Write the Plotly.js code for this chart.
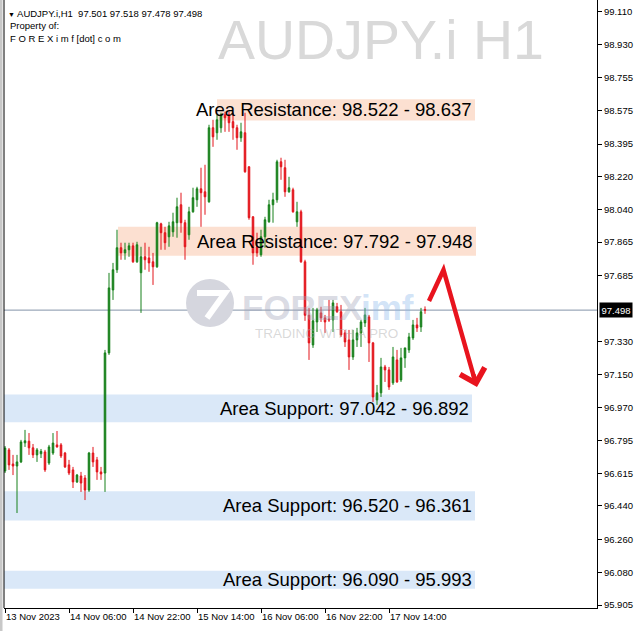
<!DOCTYPE html>
<html>
<head>
<meta charset="utf-8">
<script src="https://cdn.plot.ly/plotly-3.0.1.min.js"></script>
<style>html,body{margin:0;padding:0;background:#fff;}#chart{width:641px;height:631px;}</style>
</head>
<body>
<div id="chart"></div>
<script>
// ---- data: AUDJPY.i H1 candles, first bar 13 Nov 2023 14:00 ----
const firstBar = '2023-11-13T14:00:00Z';
const openP = [96.629,96.743,96.667,96.656,96.678,96.781,96.790,96.754,96.716,96.722,
  96.732,96.672,96.726,96.770,96.770,96.726,96.662,96.635,96.570,96.602,
  96.591,96.526,96.726,96.689,96.624,96.618,97.267,97.607,97.716,97.835,
  97.807,97.824,97.845,97.759,97.700,97.786,97.780,97.759,97.732,97.964,
  97.916,97.894,97.921,97.970,98.067,97.970,97.905,98.029,98.094,98.153,
  98.137,98.083,98.483,98.456,98.483,98.553,98.553,98.516,98.483,98.429,
  98.456,98.272,98.002,97.840,97.797,97.894,97.975,98.067,98.094,98.299,
  98.267,98.137,98.148,97.975,98.029,97.759,97.470,97.310,97.434,97.483,
  97.456,97.450,97.445,97.516,97.489,97.375,97.337,97.245,97.337,97.375,
  97.429,97.461,97.321,97.013,97.051,97.191,97.175,97.105,97.229,97.121,
  97.240,97.283,97.348,97.418,97.407,97.501];
const highP = [96.764,96.753,96.716,96.716,96.797,96.851,96.834,96.775,96.753,96.748,
  96.743,96.770,96.834,96.845,96.780,96.732,96.689,96.651,96.613,96.624,
  96.607,96.732,96.759,96.705,96.651,97.283,97.699,97.753,97.932,97.862,
  97.862,97.862,97.862,97.867,97.840,97.862,97.840,97.807,97.975,97.970,
  97.948,97.975,98.024,98.105,98.132,97.986,98.056,98.159,98.164,98.267,
  98.283,98.499,98.526,98.553,98.564,98.570,98.570,98.564,98.499,98.510,
  98.564,98.275,98.005,97.916,97.932,98.002,98.094,98.132,98.310,98.321,
  98.310,98.218,98.159,98.083,98.040,97.770,97.510,97.510,97.510,97.516,
  97.472,97.553,97.553,97.537,97.526,97.391,97.391,97.391,97.402,97.445,
  97.510,97.472,97.326,97.094,97.240,97.202,97.191,97.299,97.283,97.294,
  97.294,97.375,97.445,97.456,97.510,97.518];
const lowP = [96.618,96.635,96.607,96.402,96.672,96.759,96.716,96.699,96.678,96.699,
  96.624,96.662,96.716,96.755,96.699,96.645,96.607,96.537,96.564,96.516,
  96.472,96.516,96.651,96.581,96.581,96.516,97.256,97.553,97.699,97.770,
  97.770,97.786,97.753,97.753,97.483,97.716,97.705,97.634,97.726,97.824,
  97.824,97.840,97.894,97.889,97.916,97.770,97.878,98.024,98.056,97.948,
  98.013,98.078,98.380,98.418,98.456,98.461,98.461,98.418,98.364,98.407,
  98.240,97.986,97.743,97.786,97.786,97.835,97.970,97.970,98.078,98.202,
  98.110,98.132,98.024,97.948,97.753,97.440,97.229,97.294,97.380,97.434,
  97.375,97.434,97.380,97.483,97.353,97.299,97.175,97.229,97.299,97.299,
  97.407,97.218,97.002,96.986,97.029,97.110,97.067,97.094,97.105,97.110,
  97.186,97.267,97.337,97.380,97.380,97.478];
const closeP = [96.753,96.662,96.656,96.678,96.786,96.792,96.754,96.716,96.743,96.735,
  96.635,96.759,96.780,96.759,96.710,96.651,96.618,96.570,96.607,96.564,
  96.526,96.726,96.678,96.624,96.613,97.267,97.618,97.716,97.835,97.807,
  97.824,97.845,97.759,97.851,97.786,97.770,97.753,97.732,97.970,97.916,
  97.862,97.953,97.975,98.056,97.970,97.840,98.029,98.105,98.153,98.132,
  98.110,98.483,98.434,98.526,98.553,98.537,98.510,98.483,98.429,98.461,
  98.245,97.997,97.807,97.807,97.894,97.986,98.067,98.094,98.299,98.272,
  98.137,98.159,98.029,98.029,97.759,97.470,97.321,97.440,97.499,97.456,
  97.434,97.445,97.537,97.489,97.364,97.326,97.245,97.337,97.375,97.434,
  97.472,97.321,97.029,97.051,97.191,97.175,97.083,97.245,97.110,97.240,
  97.294,97.353,97.418,97.402,97.489,97.498];

const priceTicks = [99.110,98.930,98.755,98.575,98.395,98.220,98.040,97.865,97.685,
  97.330,97.150,96.970,96.795,96.615,96.440,96.260,96.080,95.905];
const timeTicks = ['2023-11-13 14:00','2023-11-14 06:00','2023-11-14 22:00','2023-11-15 14:00',
  '2023-11-16 06:00','2023-11-16 22:00','2023-11-17 14:00'];
const timeTickText = ['13 Nov 2023','14 Nov 06:00','14 Nov 22:00','15 Nov 14:00',
  '16 Nov 06:00','16 Nov 22:00','17 Nov 14:00'];
const lastPrice = 97.498;

const zoneKind = ['Resistance','Resistance','Support','Support','Support'];
const zoneFirst = [98.522, 97.792, 97.042, 96.520, 96.090];
const zoneSecond = [98.637, 97.948, 96.892, 96.361, 95.993];
const zoneStart = ['2023-11-15 19:00','2023-11-14 18:15','2023-11-13 00:00','2023-11-13 00:00','2023-11-13 00:00'];
const zoneEnd = ['2023-11-18 11:30','2023-11-18 11:45','2023-11-18 10:45','2023-11-18 11:30','2023-11-18 11:30'];

// ---- build hourly timestamps ----
function fmt(d){const p=n=>String(n).padStart(2,'0');
  return d.getUTCFullYear()+'-'+p(d.getUTCMonth()+1)+'-'+p(d.getUTCDate())+' '+p(d.getUTCHours())+':'+p(d.getUTCMinutes());}
const t0 = new Date(firstBar).getTime();
const times = openP.map((_,i)=>fmt(new Date(t0+i*3600000)));

const GREEN = '#17801a', RED = '#e3141b';
const FONT = 'Liberation Sans, Arial, sans-serif';

const candle = {
  type:'candlestick', x:times, open:openP, high:highP, low:lowP, close:closeP,
  increasing:{line:{color:GREEN,width:1},fillcolor:GREEN},
  decreasing:{line:{color:RED,width:1},fillcolor:RED},
  whiskerwidth:0, hoverinfo:'skip', showlegend:false
};

const PW = 593, PH = 608; // plot area in px
const px = x => (x-4)/PW, py = y => 1 - y/PH;

const shapes = [];
const annotations = [];
zoneKind.forEach((k,i)=>{
  shapes.push({type:'rect', layer:'below', xref:'x', yref:'y', x0:zoneStart[i], x1:zoneEnd[i],
    y0:zoneFirst[i], y1:zoneSecond[i], line:{width:0},
    fillcolor: k==='Resistance' ? '#fce0d1' : '#dae8f8'});
  annotations.push({xref:'x', yref:'y', x:zoneEnd[i], y:(zoneFirst[i]+zoneSecond[i])/2,
    xanchor:'right', yanchor:'middle', xshift:-1, showarrow:false,
    text:'Area '+k+': '+zoneFirst[i].toFixed(3)+' - '+zoneSecond[i].toFixed(3),
    font:{family:FONT, size:18.5, color:'#000'}});
});
// current price line
shapes.push({type:'line', layer:'below', xref:'paper', yref:'y', x0:0, x1:1, y0:lastPrice, y1:lastPrice,
  line:{color:'#8493a8', width:1}});
// left frame line and outer grey strip
shapes.push({type:'line', xref:'paper', yref:'paper', x0:0, x1:0, y0:0, y1:1, line:{color:'#000', width:1}});
shapes.push({type:'rect', xref:'paper', yref:'paper', x0:px(0), x1:px(2.5), y0:py(631), y1:1, line:{width:0}, fillcolor:'#c8c8c8'});
// logo circle
shapes.push({type:'circle', layer:'below', xref:'paper', yref:'paper', x0:px(186), x1:px(234), y0:py(327), y1:py(279),
  line:{width:0}, fillcolor:'#d5d6de'});
shapes.push({type:'path', layer:'below', xref:'paper', yref:'paper',
  path:'M '+px(197)+','+py(293)+' L '+px(225)+','+py(293)+' L '+px(207)+','+py(318),
  line:{color:'#ffffff', width:6}});
// red arrow
shapes.push({type:'path', xref:'paper', yref:'paper',
  path:'M '+px(429)+','+py(301)+' L '+px(443.5)+','+py(270)+' L '+px(474.5)+','+py(379),
  line:{color:'#e8141e', width:4.5}});
annotations.push({xref:'paper', yref:'paper', x:px(477), y:py(387), ax:-4, ay:-14,
  showarrow:true, arrowhead:4, arrowsize:1.1, arrowwidth:4.5, arrowcolor:'#e8141e', standoff:0, text:''});

// watermark texts
annotations.push({xref:'paper', yref:'paper', x:px(381), y:py(40), xanchor:'center', yanchor:'middle', showarrow:false,
  text:'AUDJPY.i H1', font:{family:FONT, size:55.5, color:'#d9d9d9'}});
annotations.push({xref:'paper', yref:'paper', x:px(240), y:py(307), xanchor:'left', yanchor:'middle', showarrow:false,
  text:'<b>FOREX</b>', font:{family:FONT, size:35, color:'rgba(160,164,185,0.40)'}});
annotations.push({xref:'paper', yref:'paper', x:px(359), y:py(307), xanchor:'left', yanchor:'middle', showarrow:false,
  text:'<b>imf</b>', font:{family:FONT, size:35, color:'rgba(140,185,235,0.40)'}});
annotations.push({xref:'paper', yref:'paper', x:px(326), y:py(333), xanchor:'center', yanchor:'middle', showarrow:false,
  text:'TRADING WITH A PRO', font:{family:FONT, size:13.5, color:'rgba(170,170,170,0.45)'}});

// header texts
annotations.push({xref:'paper', yref:'paper', x:px(6), y:py(13), xanchor:'left', yanchor:'middle', showarrow:false,
  text:'<span style="font-size:7px">▼</span> AUDJPY.i,H1\u00a0\u00a097.501 97.518 97.478 97.498', font:{family:FONT, size:9.5, color:'#000'}});
annotations.push({xref:'paper', yref:'paper', x:px(8), y:py(26), xanchor:'left', yanchor:'middle', showarrow:false,
  text:'Property of:', font:{family:FONT, size:9.5, color:'#000'}});
annotations.push({xref:'paper', yref:'paper', x:px(8), y:py(38), xanchor:'left', yanchor:'middle', showarrow:false,
  text:'F O R E X i m f [dot] c o m', font:{family:FONT, size:9.5, color:'#000'}});
// last price label
annotations.push({xref:'paper', yref:'y', x:px(599), y:lastPrice, xanchor:'left', yanchor:'middle', showarrow:false,
  text:lastPrice.toFixed(3), bgcolor:'#000', borderpad:1.5, font:{family:FONT, size:9.5, color:'#fff'}});

const layout = {
  width:641, height:631, margin:{l:4, r:44, t:0, b:23, pad:0},
  paper_bgcolor:'#fff', plot_bgcolor:'#fff', showlegend:false, boxgap:0.45,
  xaxis:{type:'date', range:['2023-11-13 13:45','2023-11-19 18:00'], rangeslider:{visible:false},
    tickmode:'array', tickvals:timeTicks, ticktext:timeTickText, ticks:'outside', ticklen:4, tickcolor:'#000',
    tickangle:0, ticklabelposition:'outside right', showline:true, linecolor:'#000', linewidth:1, showgrid:false, zeroline:false,
    tickfont:{family:FONT, size:9.5, color:'#000'}, fixedrange:true},
  yaxis:{side:'right', range:[95.889, 99.173], tickmode:'array', tickvals:priceTicks,
    ticktext:priceTicks.map(v=>v.toFixed(3)), ticks:'outside', ticklen:4, tickcolor:'#000',
    showline:true, linecolor:'#000', linewidth:1, showgrid:false, zeroline:false,
    tickfont:{family:FONT, size:9.5, color:'#000'}, fixedrange:true},
  shapes:shapes, annotations:annotations
};
Plotly.newPlot('chart', [candle], layout, {staticPlot:true, displayModeBar:false});
</script>
</body>
</html>
